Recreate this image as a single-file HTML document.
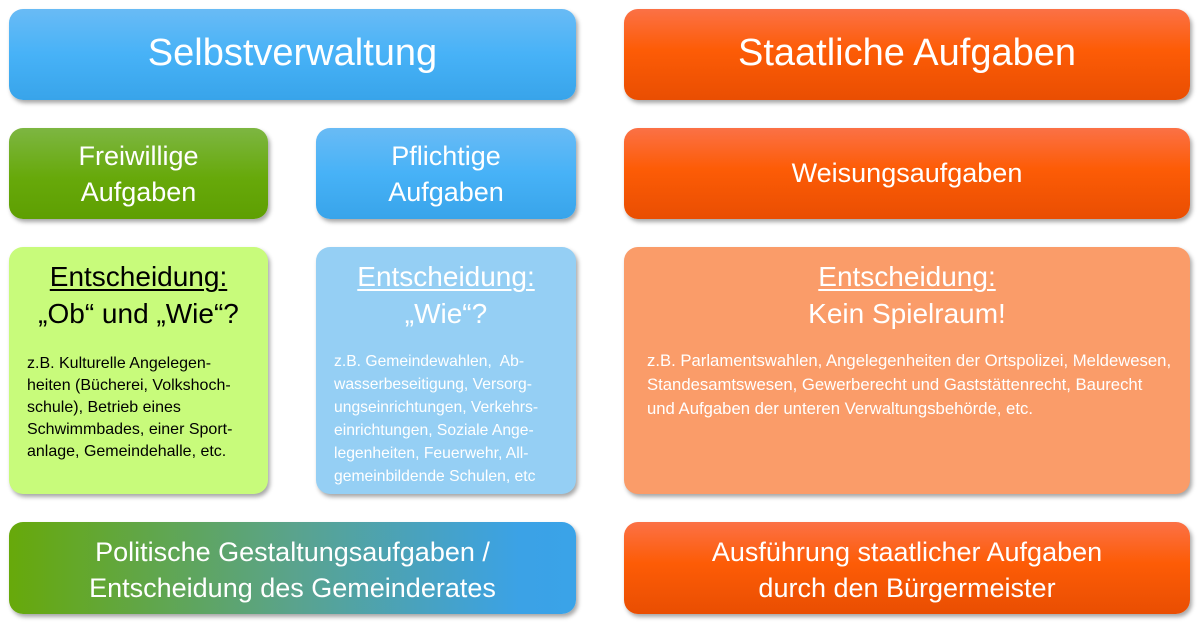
<!DOCTYPE html>
<html><head><meta charset="utf-8"><style>
body{margin:0;width:1200px;height:625px;background:#fff;position:relative;overflow:hidden;font-family:"Liberation Sans",sans-serif;}
.b{position:absolute;border-radius:14px;box-shadow:2px 3px 4px rgba(0,0,0,0.35);color:#fff;text-align:center;box-sizing:border-box;}
.blue{background:linear-gradient(#69bbf5,#47b2f7 50%,#38a4ea);}
.org{background:linear-gradient(#fb7146,#fd5c06 45%,#e94e02);}
.grn{background:linear-gradient(#7db642,#67a90a 55%,#5e9f02);}
.t{position:absolute;left:0;right:0;white-space:nowrap;}
.body{position:absolute;white-space:nowrap;text-align:left;}
u{text-decoration-thickness:1.5px;text-underline-offset:3px;}
</style></head><body>
<div class="b blue" style="left:9px;top:9px;width:567px;height:91px"><div class="t" style="top:23px;font-size:38px">Selbstverwaltung</div></div>
<div class="b org" style="left:624px;top:9px;width:566px;height:91px"><div class="t" style="top:23px;font-size:38px">Staatliche Aufgaben</div></div>

<div class="b grn" style="left:9px;top:128px;width:259px;height:91px"><div class="t" style="top:10px;font-size:27px;line-height:36px">Freiwillige<br>Aufgaben</div></div>
<div class="b blue" style="left:316px;top:128px;width:260px;height:91px"><div class="t" style="top:10px;font-size:27px;line-height:36px">Pflichtige<br>Aufgaben</div></div>
<div class="b org" style="left:624px;top:128px;width:566px;height:91px"><div class="t" style="top:27px;font-size:27px;line-height:36px">Weisungsaufgaben</div></div>

<div class="b" style="left:9px;top:247px;width:259px;height:247px;background:#c8fb7b;color:#000">
<div class="t" style="top:11px;font-size:28px;line-height:37px"><u>Entscheidung:</u><br>„Ob“ und „Wie“?</div>
<div class="body" style="left:18px;top:106px;line-height:22px;font-size:16px">z.B. Kulturelle Angelegen-<br>heiten (Bücherei, Volkshoch-<br>schule), Betrieb eines<br>Schwimmbades, einer Sport-<br>anlage, Gemeindehalle, etc.</div></div>

<div class="b" style="left:316px;top:247px;width:260px;height:247px;background:#95cff4">
<div class="t" style="top:11px;font-size:28px;line-height:37px"><u>Entscheidung:</u><br>„Wie“?</div>
<div class="body" style="left:18px;top:103px;line-height:23px;font-size:15.7px">z.B. Gemeindewahlen,&nbsp; Ab-<br>wasserbeseitigung, Versorg-<br>ungseinrichtungen, Verkehrs-<br>einrichtungen, Soziale Ange-<br>legenheiten, Feuerwehr, All-<br>gemeinbildende Schulen, etc</div></div>

<div class="b" style="left:624px;top:247px;width:566px;height:247px;background:#fa9c69">
<div class="t" style="top:11px;font-size:28px;line-height:37px"><u>Entscheidung:</u><br>Kein Spielraum!</div>
<div class="body" style="left:23px;top:102px;line-height:24px;font-size:16.7px">z.B. Parlamentswahlen, Angelegenheiten der Ortspolizei, Meldewesen,<br>Standesamtswesen, Gewerberecht und Gaststättenrecht, Baurecht<br>und Aufgaben der unteren Verwaltungsbehörde, etc.</div></div>

<div class="b" style="left:9px;top:522px;width:567px;height:92px;background:linear-gradient(90deg,#67a90a,#5aa38c 50%,#3ba2e6 90%,#3aa3e8)"><div class="t" style="top:12px;font-size:27px;line-height:36px">Politische Gestaltungsaufgaben /<br>Entscheidung des Gemeinderates</div></div>
<div class="b org" style="left:624px;top:522px;width:566px;height:92px"><div class="t" style="top:12px;font-size:27px;line-height:36px">Ausführung staatlicher Aufgaben<br>durch den Bürgermeister</div></div>
</body></html>
